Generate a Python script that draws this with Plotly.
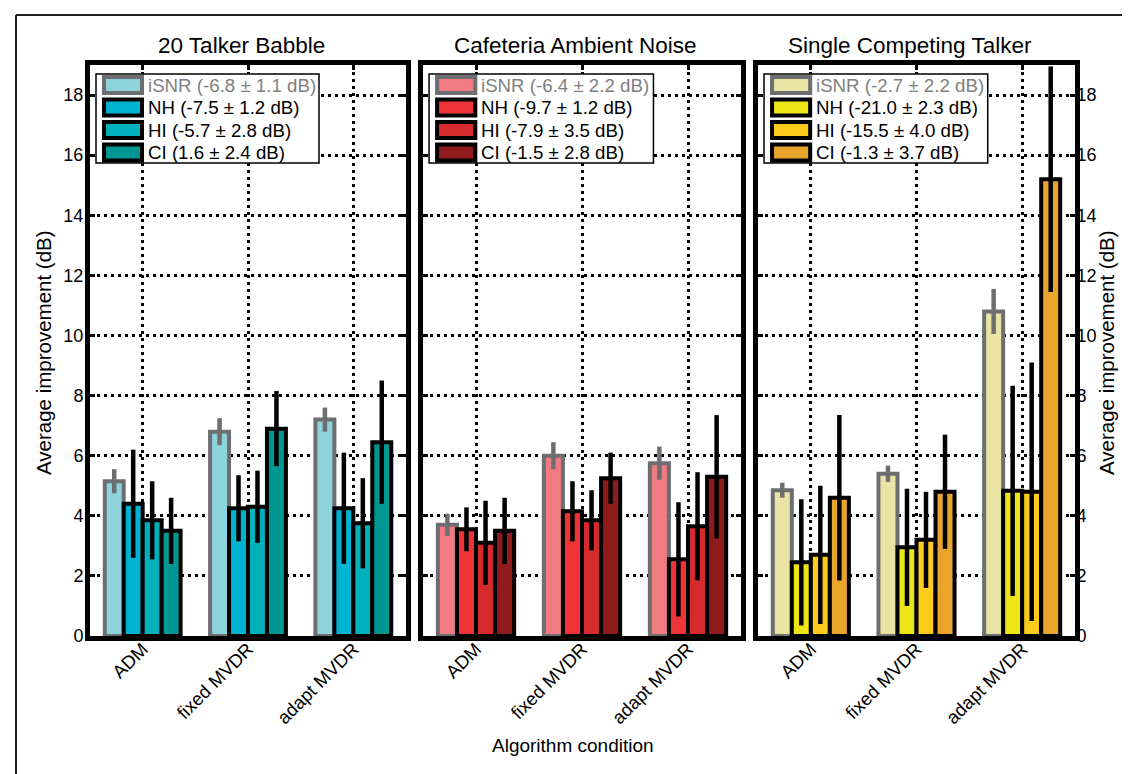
import plotly.graph_objects as go

W, H = 1130, 774

categories = ["ADM", "fixed MVDR", "adapt MVDR"]
series = ["iSNR", "NH", "HI", "CI"]
panel_titles = ["20 Talker Babble", "Cafeteria Ambient Noise", "Single Competing Talker"]

# values (dB) per series, per category
babble_isnr = [5.15, 6.8, 7.2]
babble_isnr_err = [0.4, 0.45, 0.4]
babble_nh = [4.4, 4.25, 4.25]
babble_nh_err = [1.8, 1.1, 1.85]
babble_hi = [3.85, 4.3, 3.75]
babble_hi_err = [1.3, 1.2, 1.5]
babble_ci = [3.5, 6.9, 6.45]
babble_ci_err = [1.1, 1.25, 2.05]

cafe_isnr = [3.7, 6.0, 5.75]
cafe_isnr_err = [0.37, 0.45, 0.55]
cafe_nh = [3.55, 4.15, 2.55]
cafe_nh_err = [0.73, 1.0, 1.9]
cafe_hi = [3.1, 3.85, 3.65]
cafe_hi_err = [1.4, 1.0, 1.8]
cafe_ci = [3.5, 5.25, 5.3]
cafe_ci_err = [1.1, 0.85, 2.05]

talker_isnr = [4.85, 5.4, 10.8]
talker_isnr_err = [0.25, 0.27, 0.75]
talker_nh = [2.45, 2.95, 4.83]
talker_nh_err = [2.1, 1.95, 3.5]
talker_hi = [2.7, 3.2, 4.8]
talker_hi_err = [2.3, 1.6, 4.3]
talker_ci = [4.6, 4.8, 15.2]
talker_ci_err = [2.75, 1.9, 3.75]

babble_legend = ["iSNR (-6.8 ± 1.1 dB)", "NH (-7.5 ± 1.2 dB)", "HI (-5.7 ± 2.8 dB)", "CI (1.6 ± 2.4 dB)"]
cafe_legend = ["iSNR (-6.4 ± 2.2 dB)", "NH (-9.7 ± 1.2 dB)", "HI (-7.9 ± 3.5 dB)", "CI (-1.5 ± 2.8 dB)"]
talker_legend = ["iSNR (-2.7 ± 2.2 dB)", "NH (-21.0 ± 2.3 dB)", "HI (-15.5 ± 4.0 dB)", "CI (-1.3 ± 3.7 dB)"]

babble_colors = ["#8fd4dd", "#00b3d1", "#00b0bb", "#009793"]
cafe_colors = ["#f27b82", "#ee3439", "#d52b2c", "#8f1b1d"]
talker_colors = ["#e9e4a3", "#ede516", "#fdcb1b", "#e9a42b"]

ytick_vals = [0, 2, 4, 6, 8, 10, 12, 14, 16, 18]

panels = [
    (babble_legend, babble_colors,
     [babble_isnr, babble_nh, babble_hi, babble_ci],
     [babble_isnr_err, babble_nh_err, babble_hi_err, babble_ci_err]),
    (cafe_legend, cafe_colors,
     [cafe_isnr, cafe_nh, cafe_hi, cafe_ci],
     [cafe_isnr_err, cafe_nh_err, cafe_hi_err, cafe_ci_err]),
    (talker_legend, talker_colors,
     [talker_isnr, talker_nh, talker_hi, talker_ci],
     [talker_isnr_err, talker_nh_err, talker_hi_err, talker_ci_err]),
]

FONT = "Liberation Sans, Arial, Helvetica, sans-serif"
GREY = "#6d6e71"

# pixel layout of the three axes boxes
ax_px = [(82, 398), (415, 733), (750, 1067)]
ax_top, ax_bot = 57, 628
ydom = [1 - ax_bot / H, 1 - ax_top / H]
pw = 316.0
ph = float(ax_bot - ax_top)

fig = go.Figure()
shapes = []
annotations = []

for i, (leg, cols, vals, errs) in enumerate(panels):
    xa = "x" if i == 0 else f"x{i+1}"
    ya = "y" if i == 0 else f"y{i+1}"
    for j, s in enumerate(series):
        edge = GREY if j == 0 else "black"
        fig.add_trace(go.Bar(
            x=[1, 2, 3], y=vals[j], name=s, xaxis=xa, yaxis=ya,
            marker=dict(color=cols[j], line=dict(color=edge, width=4)),
            error_y=dict(type="data", array=errs[j], visible=True,
                         color=edge, thickness=4.5, width=0),
            showlegend=False,
        ))
    # legend (manual box)
    xd = f"{xa} domain"
    yd = f"{ya} domain"
    shapes.append(dict(type="rect", xref=xd, yref=yd,
                       x0=6 / pw, x1=229 / pw, y0=1 - 98 / ph, y1=1 - 9 / ph,
                       fillcolor="white", line=dict(color="black", width=1.5), layer="above"))
    for j, s in enumerate(series):
        cy = 20 + j * 22.5
        edge = GREY if j == 0 else "black"
        shapes.append(dict(type="rect", xref=xd, yref=yd,
                           x0=14 / pw, x1=52 / pw,
                           y0=1 - (cy + 8) / ph, y1=1 - (cy - 8) / ph,
                           fillcolor=cols[j], line=dict(color=edge, width=4), layer="above"))
        annotations.append(dict(xref=xd, yref=yd, x=55.5 / pw, y=1 - cy / ph,
                                text=leg[j], showarrow=False, xanchor="left", yanchor="middle",
                                font=dict(family=FONT, size=18.7, color="#7f7f7f" if j == 0 else "black")))
    # title
    annotations.append(dict(xref=xd, yref="paper", x=0.48, y=1 - 37 / H,
                            text=panel_titles[i], showarrow=False, xanchor="center", yanchor="middle",
                            font=dict(family=FONT, size=22.5, color="black")))

axis_common = dict(showline=True, linecolor="black", linewidth=5, mirror="ticks",
                   ticks="inside", ticklen=5, tickwidth=3, tickcolor="black",
                   showgrid=True, gridcolor="black", gridwidth=3, griddash="3px,4px",
                   zeroline=False, automargin=False)

layout = dict(
    width=W, height=H, margin=dict(l=0, r=0, t=0, b=0),
    paper_bgcolor="white", plot_bgcolor="white",
    barmode="group", bargap=0.28, bargroupgap=0,
    showlegend=False,
    font=dict(family=FONT, size=18, color="black"),
)

for i, (x0, x1) in enumerate(ax_px):
    xk = "xaxis" if i == 0 else f"xaxis{i+1}"
    yk = "yaxis" if i == 0 else f"yaxis{i+1}"
    ya_ref = "y" if i == 0 else f"y{i+1}"
    xa_ref = "x" if i == 0 else f"x{i+1}"
    layout[xk] = dict(axis_common, domain=[x0 / W, x1 / W], range=[0.5, 3.5],
                      tickvals=[1, 2, 3], ticktext=categories, tickangle=-45,
                      tickfont=dict(family=FONT, size=18.5), anchor=ya_ref,
                      ticklabelstandoff=-10)
    layout[yk] = dict(axis_common, domain=ydom, range=[0, 19],
                      tickvals=ytick_vals, ticktext=[str(v) for v in ytick_vals],
                      tickfont=dict(family=FONT, size=18), anchor=xa_ref,
                      showticklabels=(i != 1), side="right" if i == 2 else "left",
                      ticklabelstandoff=(-7 if i == 2 else -2))

fig.update_layout(**layout)

# axis titles
annotations.append(dict(xref="paper", yref="paper", x=35 / W, y=1 - 345 / H,
                        text="Average improvement (dB)", textangle=-90, showarrow=False,
                        xanchor="center", yanchor="middle", font=dict(family=FONT, size=20.5)))
annotations.append(dict(xref="paper", yref="paper", x=1098 / W, y=1 - 345 / H,
                        text="Average improvement (dB)", textangle=-90, showarrow=False,
                        xanchor="center", yanchor="middle", font=dict(family=FONT, size=20.5)))
annotations.append(dict(xref="paper", yref="paper", x=565 / W, y=1 - 737 / H,
                        text="Algorithm condition", showarrow=False,
                        xanchor="center", yanchor="middle", font=dict(family=FONT, size=19)))

# outer frame lines (top and left)
shapes.append(dict(type="line", xref="paper", yref="paper",
                   x0=8 / W, x1=1.0, y0=1 - 7 / H, y1=1 - 7 / H, line=dict(color="#222", width=2)))
shapes.append(dict(type="line", xref="paper", yref="paper",
                   x0=8 / W, x1=8 / W, y0=0, y1=1 - 7 / H, line=dict(color="#222", width=2)))

fig.update_layout(shapes=shapes, annotations=annotations)
fig.write_html("out.html")
